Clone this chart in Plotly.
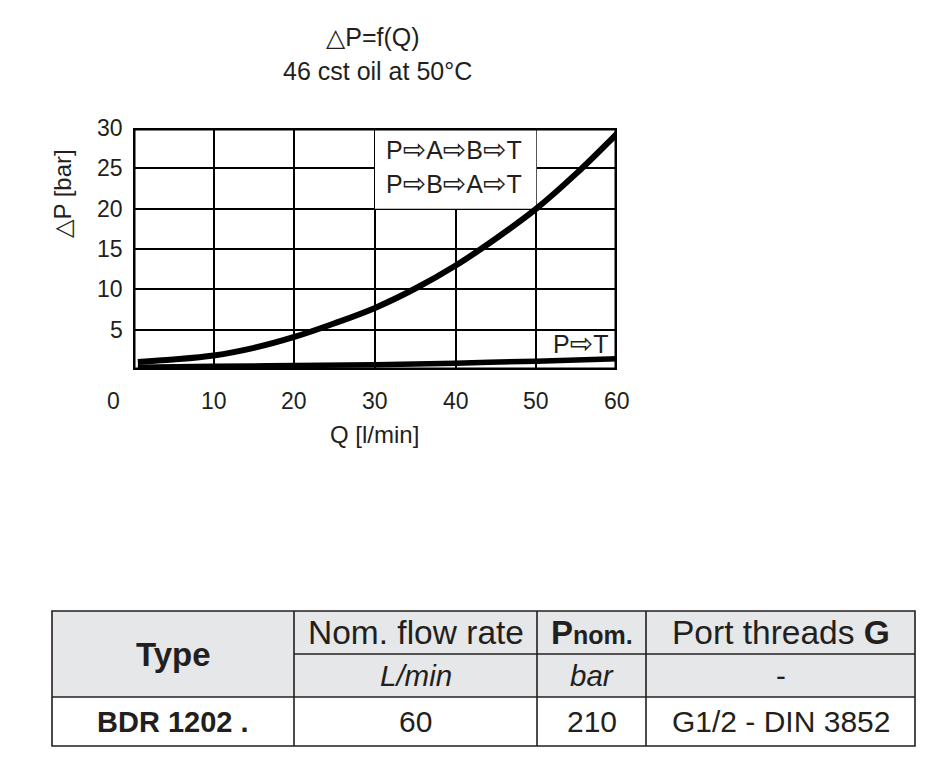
import plotly.graph_objects as go

W, H = 951, 767

# ---- data ----
q_main = [0.6, 5, 10, 15, 20, 25, 30, 35, 40, 45, 50, 55, 60]
dp_main = [1.0, 1.3, 1.8, 2.75, 4.1, 5.8, 7.7, 10.1, 12.95, 16.3, 20.0, 24.4, 29.3]
q_pt = [0.6, 10, 20, 30, 40, 50, 60]
dp_pt = [0.35, 0.45, 0.55, 0.65, 0.85, 1.1, 1.4]

x_ticks = [0, 10, 20, 30, 40, 50, 60]
y_ticks = [5, 10, 15, 20, 25, 30]

title_lines = ["△P=f(Q)", "46 cst oil at 50°C"]
x_title = "Q [l/min]"
y_title = "△P [bar]"
label_main = [["P", "A", "B", "T"], ["P", "B", "A", "T"]]
label_pt = ["P", "T"]

# table content
tbl_type_head = "Type"
tbl_heads = ["Nom. flow rate", "P<span style='font-size:25px'>nom.</span>", "Port threads <b>G</b>"]
tbl_units = ["L/min", "bar", "-"]
tbl_row = ["BDR 1202 .", "60", "210", "G1/2 - DIN 3852"]

INK = "#231f20"
FONT = "Liberation Sans, Arial, DejaVu Sans, sans-serif"
ARROW = "<span style='font-family:DejaVu Sans;font-size:28px'>⇨</span>"

# pixel layout
PL, PR, PT, PB = 133, 617, 128, 370


def px(x):
    return x / W


def py(y):
    return 1 - y / H


def ann(**kw):
    d = dict(showarrow=False, xanchor="center", yanchor="middle")
    d.update(kw)
    return d


fig = go.Figure()
fig.add_trace(go.Scatter(x=q_main, y=dp_main, mode="lines", line=dict(color="black", width=6, shape="spline", smoothing=1.0),
                         hoverinfo="skip", showlegend=False))
fig.add_trace(go.Scatter(x=q_pt, y=dp_pt, mode="lines", line=dict(color="black", width=5.5, shape="spline"),
                         hoverinfo="skip", showlegend=False))

shapes = []
annotations = []

# white box behind the main label (covers grid)
shapes.append(dict(type="rect", xref="x", yref="y", x0=30, x1=50, y0=20, y1=30,
                   fillcolor="white", line=dict(width=0), layer="between"))
# plot frame
shapes.append(dict(type="rect", xref="x", yref="y", x0=0, x1=60, y0=0, y1=30,
                   line=dict(color="black", width=5), layer="above"))

# titles
annotations.append(ann(x=px(373), y=py(37), xref="paper", yref="paper", text=title_lines[0],
                       font=dict(size=25, color=INK, family=FONT)))
annotations.append(ann(x=px(377), y=py(71), xref="paper", yref="paper", text=title_lines[1],
                       font=dict(size=25, color=INK, family=FONT)))
annotations.append(ann(x=px(374), y=py(434), xref="paper", yref="paper", text=x_title,
                       font=dict(size=24, color=INK, family=FONT)))
annotations.append(ann(x=px(62), y=py(194), xref="paper", yref="paper", text=y_title,
                       textangle=-90, font=dict(size=24, color=INK, family=FONT)))

# tick labels
for v in x_ticks:
    annotations.append(ann(x=v, y=0, xref="x", yref="y", text=str(v),
                           yshift=-31, xshift=(-20 if v == 0 else 0),
                           font=dict(size=23, color=INK, family=FONT)))
for v in y_ticks:
    annotations.append(ann(x=0, y=v, xref="x", yref="y", text=str(v), xanchor="right",
                           xshift=-8, font=dict(size=23, color=INK, family=FONT)))

# curve labels
annotations.append(ann(x=px(454), y=py(150), xref="paper", yref="paper", text=ARROW.join(label_main[0]),
                       font=dict(size=25, color=INK, family=FONT)))
annotations.append(ann(x=px(454), y=py(183), xref="paper", yref="paper", text=ARROW.join(label_main[1]),
                       font=dict(size=25, color=INK, family=FONT)))
annotations.append(ann(x=px(580), y=py(343), xref="paper", yref="paper", text=ARROW.join(label_pt),
                       font=dict(size=25, color=INK, family=FONT)))

# ---- table ----
TX = [52, 294, 537, 646, 915]
TY = [611, 654, 697, 746]
GRAY = "#e6e7e8"
LW = 1.6
shapes.append(dict(type="rect", xref="paper", yref="paper", x0=px(TX[0]), x1=px(TX[4]), y0=py(TY[0]), y1=py(TY[2]),
                   fillcolor=GRAY, line=dict(width=0), layer="below"))
shapes.append(dict(type="rect", xref="paper", yref="paper", x0=px(TX[0]), x1=px(TX[4]), y0=py(TY[0]), y1=py(TY[3]),
                   line=dict(color=INK, width=LW), layer="above"))
shapes.append(dict(type="line", xref="paper", yref="paper", x0=px(TX[1]), x1=px(TX[4]), y0=py(TY[1]), y1=py(TY[1]),
                   line=dict(color=INK, width=LW)))
shapes.append(dict(type="line", xref="paper", yref="paper", x0=px(TX[0]), x1=px(TX[4]), y0=py(TY[2]), y1=py(TY[2]),
                   line=dict(color=INK, width=LW)))
for cx in TX[1:4]:
    shapes.append(dict(type="line", xref="paper", yref="paper", x0=px(cx), x1=px(cx), y0=py(TY[0]), y1=py(TY[3]),
                       line=dict(color=INK, width=LW)))


def cell(text, c0, c1, r0, r1, size, bold=False, italic=False):
    t = text
    if bold:
        t = "<b>" + t + "</b>"
    if italic:
        t = "<i>" + t + "</i>"
    annotations.append(ann(x=px((c0 + c1) / 2), y=py((r0 + r1) / 2), xref="paper", yref="paper", text=t,
                           font=dict(size=size, color=INK, family=FONT)))


cell(tbl_type_head, TX[0], TX[1], TY[0], TY[2], 33, bold=True)
cell(tbl_heads[0], TX[1], TX[2], TY[0], TY[1], 33.5)
cell(tbl_heads[1], TX[2], TX[3], TY[0], TY[1], 33, bold=True)
cell(tbl_heads[2], TX[3], TX[4], TY[0], TY[1], 33.5)
for i, u in enumerate(tbl_units):
    cell(u, TX[i + 1], TX[i + 2], TY[1], TY[2], 29.5, italic=(u != "-"))
cell(tbl_row[0], TX[0], TX[1], TY[2], TY[3], 29, bold=True)
for i, v in enumerate(tbl_row[1:]):
    cell(v, TX[i + 1], TX[i + 2], TY[2], TY[3], 30)

fig.update_layout(
    width=W, height=H, margin=dict(l=0, r=0, t=0, b=0),
    paper_bgcolor="white", plot_bgcolor="white",
    xaxis=dict(domain=[px(PL), px(PR)], range=[0, 60], tickvals=x_ticks[1:-1], showticklabels=False,
               showgrid=True, gridcolor="black", gridwidth=2, zeroline=False, showline=False, ticks=""),
    yaxis=dict(domain=[py(PB), py(PT)], range=[0, 30], tickvals=y_ticks[:-1], showticklabels=False,
               showgrid=True, gridcolor="black", gridwidth=2, zeroline=False, showline=False, ticks=""),
    shapes=shapes, annotations=annotations, showlegend=False,
)

fig.write_html("out.html", config={"displayModeBar": False},
               post_script="document.body.style.margin='0';document.body.style.overflow='hidden';")
